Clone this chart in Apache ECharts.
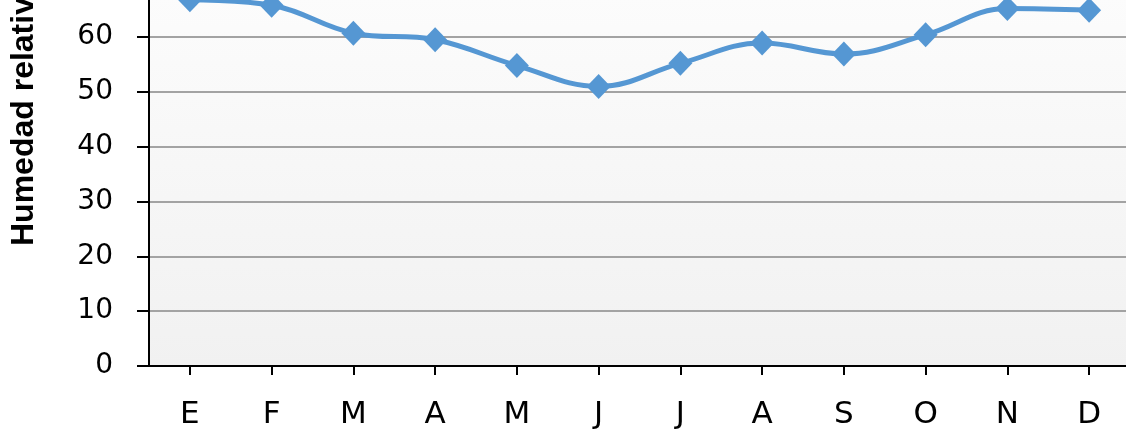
<!DOCTYPE html>
<html>
<head>
<meta charset="utf-8">
<style>
  html, body { margin: 0; padding: 0; background: #ffffff; }
  #chart { width: 1126px; height: 432px; }
</style>
<script src="https://cdn.jsdelivr.net/npm/echarts@6/dist/echarts.min.js"></script>
</head>
<body>
<div id="chart"></div>
<script>
const months = ['E', 'F', 'M', 'A', 'M', 'J', 'J', 'A', 'S', 'O', 'N', 'D'];
const humidity = [66.8, 65.8, 60.7, 59.5, 54.8, 51.0, 55.2, 58.9, 56.9, 60.4, 65.2, 64.9];
const yTitle = 'Humedad relativa (%)';

const chart = echarts.init(document.getElementById('chart'), null, { renderer: 'canvas' });
chart.setOption({
  animation: false,
  backgroundColor: '#ffffff',
  grid: {
    left: 149,
    right: -4,
    top: -72.6,
    bottom: 66,
    containLabel: false,
    outerBoundsMode: 'none',
    show: true,
    borderWidth: 0,
    backgroundColor: new echarts.graphic.LinearGradient(0, 0, 0, 1, [
      { offset: 0, color: '#fefefe' },
      { offset: 1, color: '#f1f1f1' }
    ])
  },
  xAxis: {
    type: 'category',
    data: months,
    boundaryGap: true,
    axisLine: { show: true, lineStyle: { color: '#000000', width: 2 } },
    axisTick: { show: true, alignWithLabel: true, length: 9, lineStyle: { color: '#000000', width: 2 } },
    axisLabel: { color: '#000000', fontSize: 31, fontFamily: '"DejaVu Sans", sans-serif', margin: 33 },
    splitLine: { show: false }
  },
  yAxis: {
    type: 'value',
    min: 0,
    max: 80,
    interval: 10,
    axisLine: { show: true, lineStyle: { color: '#000000', width: 2 } },
    axisTick: { show: true, length: 12, lineStyle: { color: '#000000', width: 2 } },
    axisLabel: { color: '#000000', fontSize: 28, fontFamily: '"DejaVu Sans", sans-serif', margin: 36 },
    splitLine: { show: true, lineStyle: { color: '#a3a3a3', width: 2 } }
  },
  graphic: [{
    type: 'text',
    x: 24,
    y: 246,
    rotation: Math.PI / 2,
    style: {
      text: yTitle,
      font: 'bold 32px "Liberation Sans", Arial, sans-serif',
      fill: '#000000',
      textAlign: 'left',
      textVerticalAlign: 'middle'
    }
  }],
  series: [{
    type: 'line',
    data: humidity,
    smooth: 0.4,
    symbol: 'diamond',
    symbolSize: [24, 25],
    lineStyle: { color: '#5597d3', width: 5 },
    itemStyle: { color: '#5597d3' },
    z: 3
  }]
});
</script>
</body>
</html>
